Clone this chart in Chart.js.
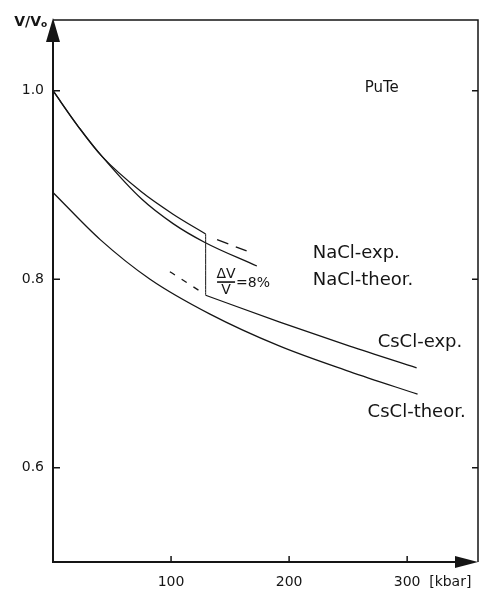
<!DOCTYPE html>
<html>
<head>
<meta charset="utf-8">
<script src="https://cdn.jsdelivr.net/npm/chart.js@4"></script>
<style>
  body { margin: 0; background: #fff; }
  canvas { display: block; }
</style>
</head>
<body>
<canvas id="grafico" width="482" height="591"></canvas>
<script>
// Presion en kbar (P) y volumen relativo V/Vo
const naclExpP = [0, 21.4, 41.7, 74.6, 101.7, 129.3];
const naclExpV = [1.0, 0.962, 0.930, 0.893, 0.869, 0.848];
const naclExpDashP = [139, 164];
const naclExpDashV = [0.842, 0.830];
const naclTheorP = [0, 21.4, 41.7, 75.1, 101.7, 128.7, 172.7];
const naclTheorV = [1.0, 0.962, 0.930, 0.885, 0.859, 0.839, 0.814];
const csclExpDashP = [99, 125];
const csclExpDashV = [0.808, 0.787];
const csclExpP = [129.3, 192.1, 251.3, 308];
const csclExpV = [0.783, 0.7545, 0.729, 0.706];
const csclTheorP = [0, 40, 82.2, 133, 192.1, 251.3, 308.8];
const csclTheorV = [0.892, 0.842, 0.800, 0.763, 0.729, 0.702, 0.678];
const saltoP = [129.3, 129.3];
const saltoV = [0.848, 0.783];

const xTicks = [100, 200, 300];
const xTickLabels = ['100', '200', '300'];
const yTicks = [1.0, 0.8, 0.6];
const yTickLabels = ['1.0', '0.8', '0.6'];

const tinta = '#151515';
const fuente = '"DejaVu Sans", sans-serif';

function puntos(ps, vs) {
    return ps.map((p, i) => ({ x: p, y: vs[i] }));
}

function serie(ps, vs, dash, ancho) {
    return {
        data: puntos(ps, vs),
        showLine: true,
        borderColor: tinta,
        borderWidth: ancho || 1.3,
        borderDash: dash || [],
        pointRadius: 0,
        cubicInterpolationMode: 'monotone',
        fill: false
    };
}

// Ejes con flechas, marco, marcas y textos
const marco = {
    id: 'marco',
    afterDraw(chart) {
        const { ctx, chartArea: a, scales: { x, y } } = chart;
        ctx.save();
        ctx.strokeStyle = tinta;
        ctx.fillStyle = tinta;

        ctx.lineWidth = 2;
        ctx.beginPath();
        ctx.moveTo(a.left, a.top + 18);
        ctx.lineTo(a.left, a.bottom);
        ctx.lineTo(a.right - 20, a.bottom);
        ctx.stroke();

        ctx.lineWidth = 1.5;
        ctx.beginPath();
        ctx.moveTo(a.left, a.top);
        ctx.lineTo(a.right, a.top);
        ctx.lineTo(a.right, a.bottom);
        ctx.stroke();

        // flechas
        ctx.beginPath();
        ctx.moveTo(a.left, a.top - 2);
        ctx.lineTo(a.left - 7, a.top + 22);
        ctx.lineTo(a.left + 7, a.top + 22);
        ctx.closePath();
        ctx.fill();
        ctx.beginPath();
        ctx.moveTo(a.right, a.bottom);
        ctx.lineTo(a.right - 23, a.bottom - 6);
        ctx.lineTo(a.right - 23, a.bottom + 6);
        ctx.closePath();
        ctx.fill();

        // marcas
        ctx.lineWidth = 1.5;
        ctx.beginPath();
        xTicks.forEach(v => {
            const px = x.getPixelForValue(v);
            ctx.moveTo(px, a.bottom);
            ctx.lineTo(px, a.bottom - 6);
        });
        yTicks.forEach(v => {
            const py = y.getPixelForValue(v);
            ctx.moveTo(a.left, py);
            ctx.lineTo(a.left + 7, py);
            ctx.moveTo(a.right, py);
            ctx.lineTo(a.right - 6, py);
        });
        ctx.stroke();

        // etiquetas de los ejes
        ctx.font = '14px ' + fuente;
        ctx.textBaseline = 'middle';
        ctx.textAlign = 'right';
        yTicks.forEach((v, i) => ctx.fillText(yTickLabels[i], a.left - 9, y.getPixelForValue(v)));
        ctx.textAlign = 'center';
        xTicks.forEach((v, i) => ctx.fillText(xTickLabels[i], x.getPixelForValue(v), a.bottom + 20));
        ctx.textAlign = 'left';
        ctx.fillText('[kbar]', x.getPixelForValue(300) + 22, a.bottom + 20);

        ctx.font = 'bold 14px ' + fuente;
        ctx.textAlign = 'right';
        ctx.fillText('V/V', a.left - 12, a.top + 2);
        ctx.font = 'bold 9px ' + fuente;
        ctx.textAlign = 'left';
        ctx.fillText('o', a.left - 12, a.top + 5);

        // rotulos de las curvas
        ctx.font = '15px ' + fuente;
        ctx.fillText('PuTe', x.getPixelForValue(264), y.getPixelForValue(1.003));
        ctx.font = '18px ' + fuente;
        ctx.fillText('NaCl-exp.', x.getPixelForValue(220), y.getPixelForValue(0.8275));
        ctx.fillText('NaCl-theor.', x.getPixelForValue(220), y.getPixelForValue(0.799));
        ctx.fillText('CsCl-exp.', x.getPixelForValue(275), y.getPixelForValue(0.733));
        ctx.fillText('CsCl-theor.', x.getPixelForValue(266.5), y.getPixelForValue(0.659));

        // dV/V = 8%
        const fx = x.getPixelForValue(146.6);
        const fy = y.getPixelForValue(0.797);
        ctx.font = '14px ' + fuente;
        ctx.textAlign = 'center';
        ctx.fillText('\u0394V', fx, fy - 8);
        ctx.fillText('V', fx, fy + 8);
        ctx.lineWidth = 1.6;
        ctx.beginPath();
        ctx.moveTo(fx - 9, fy);
        ctx.lineTo(fx + 9, fy);
        ctx.stroke();
        ctx.textAlign = 'left';
        ctx.fillText('=8%', fx + 10, fy + 1);

        ctx.restore();
    }
};

new Chart(document.getElementById('grafico').getContext('2d'), {
    type: 'scatter',
    data: {
        datasets: [
            serie(naclExpP, naclExpV),
            serie(naclExpDashP, naclExpDashV, [12, 8]),
            serie(naclTheorP, naclTheorV),
            serie(csclExpDashP, csclExpDashV, [6, 8]),
            serie(csclExpP, csclExpV),
            serie(csclTheorP, csclTheorV),
            serie(saltoP, saltoV, [], 1)
        ]
    },
    options: {
        responsive: false,
        animation: false,
        layout: { padding: { left: 53, right: 4, top: 20, bottom: 29 } },
        plugins: { legend: { display: false }, tooltip: { enabled: false } },
        scales: {
            x: { type: 'linear', display: false, min: 0, max: 360 },
            y: { type: 'linear', display: false, min: 0.5, max: 1.075 }
        }
    },
    plugins: [marco]
});
</script>
</body>
</html>
